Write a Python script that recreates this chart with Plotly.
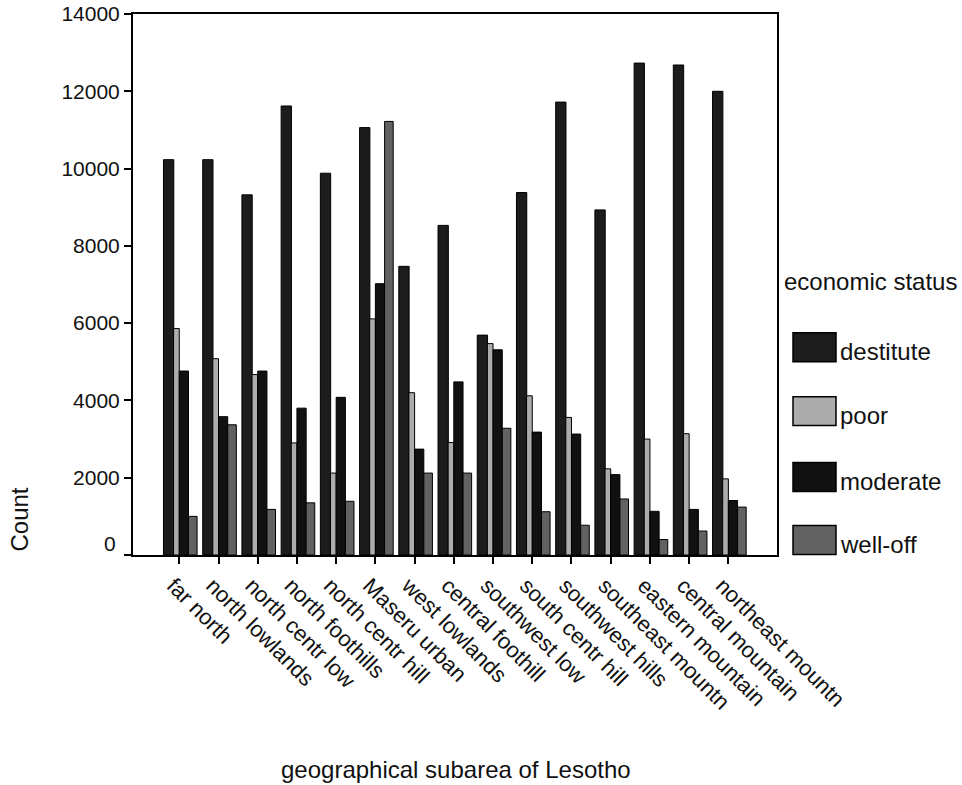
import plotly.graph_objects as go

# Household counts by geographical subarea and economic status
subareas = [
    "far north", "north lowlands", "north centr low", "north foothills",
    "north centr hill", "Maseru urban", "west lowlands", "central foothill",
    "southwest low", "south centr hill", "southwest hills", "southeast mountn",
    "eastern mountain", "central mountain", "northeast mountn",
]
statuses = ["destitute", "poor", "moderate", "well-off"]

destitute = [10230, 10230, 9320, 11620, 9880, 11060, 7470, 8530,
             5690, 9380, 11720, 8930, 12730, 12680, 12000]
poor = [5860, 5080, 4670, 2900, 2120, 6110, 4200, 2910,
        5470, 4120, 3560, 2230, 3000, 3140, 1970]
moderate = [4760, 3580, 4760, 3800, 4080, 7020, 2740, 4480,
            5310, 3180, 3130, 2080, 1130, 1180, 1410]
well_off = [1000, 3370, 1180, 1350, 1390, 11220, 2120, 2120,
            3280, 1120, 770, 1450, 400, 620, 1240]

y_ticks = [0, 2000, 4000, 6000, 8000, 10000, 12000, 14000]

series = [destitute, poor, moderate, well_off]
colors = ["#1c1c1c", "#acacac", "#111111", "#626262"]
# bar placement inside each cluster (category units)
offsets = [-0.403, -0.145, 0.0, 0.235]
widths = [0.263, 0.145, 0.235, 0.219]

FONT = "Liberation Sans, Arial, sans-serif"
TXT = "#111111"

fig = go.Figure()
for name, vals, col, off, w in zip(statuses, series, colors, offsets, widths):
    fig.add_trace(go.Bar(
        x=list(range(len(subareas))), y=vals, name=name,
        marker=dict(color=col, line=dict(color="#000000", width=1)),
        offset=off, width=w, showlegend=False,
    ))

# plot area in pixels
L, R, T, B = 133, 777, 14, 555.5
W, H = 962, 785

fig.update_layout(
    width=W, height=H,
    margin=dict(l=L, r=W - R, t=T, b=H - B, pad=0, autoexpand=False),
    paper_bgcolor="white", plot_bgcolor="white",
    barmode="overlay",
    font=dict(family=FONT, size=21, color=TXT),
    showlegend=False,
)
fig.update_xaxes(
    range=[-1.18, 15.24], automargin=False,
    tickmode="array", tickvals=list(range(len(subareas))), ticktext=subareas,
    tickangle=45, ticks="outside", ticklen=7, tickwidth=1.5, tickcolor="#000",
    ticklabelshift=-6,
    showline=True, linecolor="#000", linewidth=2, mirror=True,
    showgrid=False, zeroline=False,
    tickfont=dict(family=FONT, size=22, color=TXT),
)
fig.update_yaxes(
    range=[0, 14000], automargin=False,
    tickmode="array", tickvals=y_ticks,
    ticktext=["" if v == 0 else str(v) for v in y_ticks],
    ticks="outside", ticklen=7, tickwidth=1.5, tickcolor="#000",
    showline=True, linecolor="#000", linewidth=2, mirror=True,
    showgrid=False, zeroline=False,
    tickfont=dict(family=FONT, size=21, color=TXT),
)

annotations = [
    # zero label sits a little above the baseline
    dict(text="0", xref="paper", yref="y", x=(118 - L) / (R - L), y=0,
         xanchor="right", yanchor="middle", yshift=12, showarrow=False,
         font=dict(family=FONT, size=21, color=TXT)),
    dict(text="Count", xref="paper", yref="paper",
         x=(20 - L) / (R - L), y=(B - 520) / (B - T), textangle=-90,
         xanchor="center", yanchor="middle", showarrow=False,
         font=dict(family=FONT, size=24, color=TXT)),
    dict(text="geographical subarea of Lesotho", xref="paper", yref="paper",
         x=(456 - L) / (R - L), y=(B - 770) / (B - T),
         xanchor="center", yanchor="middle", showarrow=False,
         font=dict(family=FONT, size=24, color=TXT)),
    dict(text="economic status", xref="paper", yref="paper",
         x=(782 - L) / (R - L), y=(B - 282) / (B - T),
         xanchor="left", yanchor="middle", showarrow=False,
         font=dict(family=FONT, size=24, color=TXT)),
]

# legend swatches and labels
shapes = []
sw_top = [333, 397, 463, 526]
for name, col, top in zip(statuses, colors, sw_top):
    shapes.append(dict(
        type="rect", xref="paper", yref="paper",
        x0=(793 - L) / (R - L), x1=(836 - L) / (R - L),
        y0=(B - top) / (B - T), y1=(B - (top + 29)) / (B - T),
        fillcolor=col, line=dict(color="#000", width=1.5),
    ))
    annotations.append(dict(
        text=name, xref="paper", yref="paper",
        x=(838 - L) / (R - L), y=(B - (top + 19)) / (B - T),
        xanchor="left", yanchor="middle", showarrow=False,
        font=dict(family=FONT, size=24, color=TXT),
    ))

fig.update_layout(annotations=annotations, shapes=shapes)
fig.write_html("out.html")
